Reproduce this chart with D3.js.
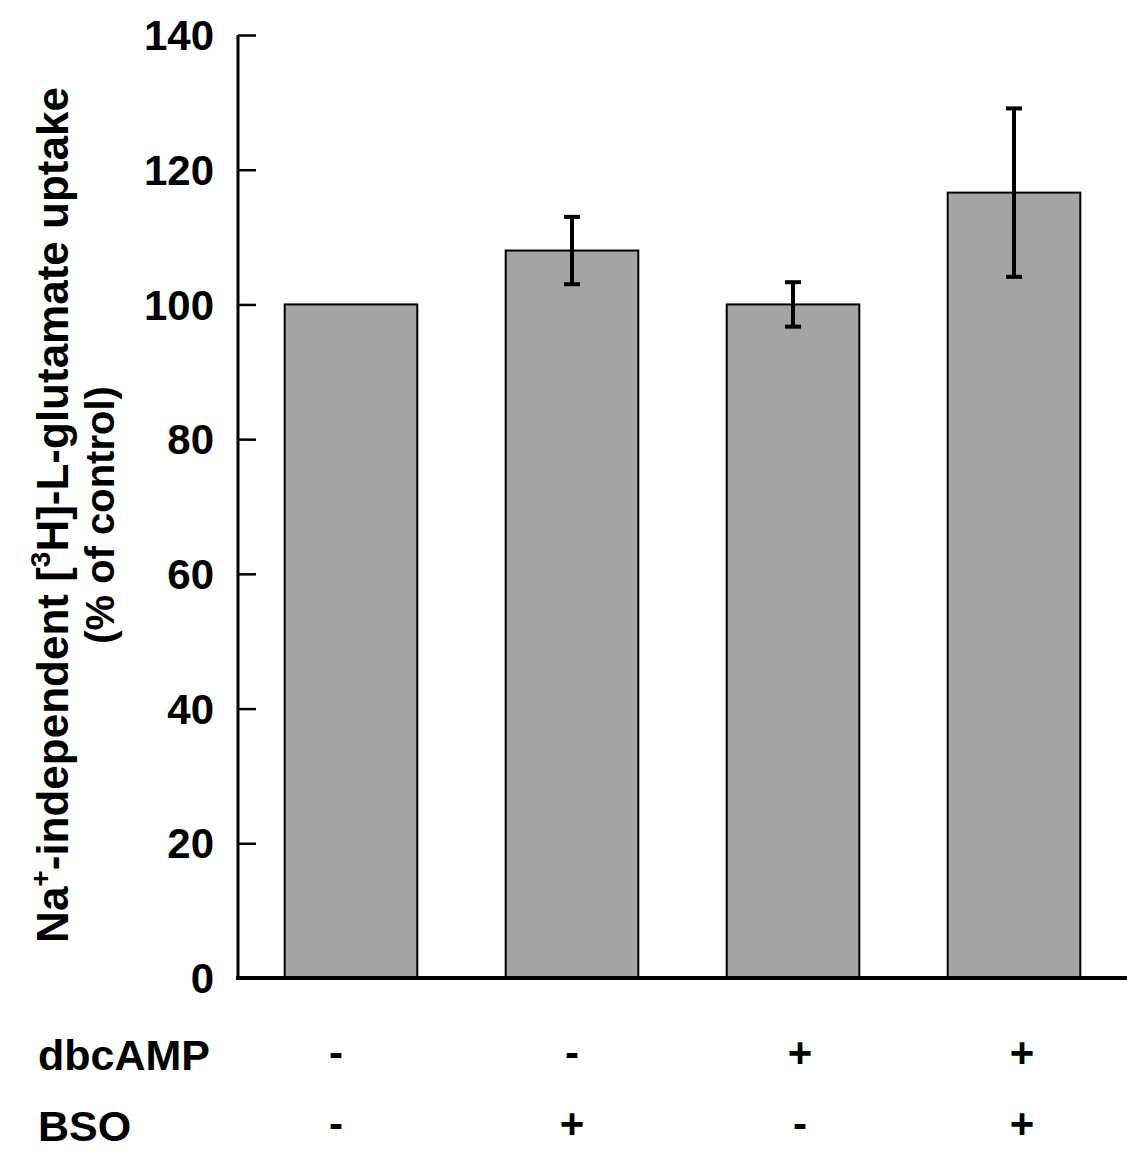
<!DOCTYPE html>
<html>
<head>
<meta charset="utf-8">
<script src="https://cdn.jsdelivr.net/npm/d3@7"></script>
<style>
  body { margin: 0; background: #fff; }
  text { font-family: "Liberation Sans", Arial, Helvetica, sans-serif; font-weight: bold; fill: #000; }
</style>
</head>
<body>
<div id="chart"></div>
<script>
// data
var groups = ["g1", "g2", "g3", "g4"];
var uptake = [100, 108, 100, 116.6];
var sem = [0, 5, 3.3, 12.5];
var dbcAMP = ["-", "-", "+", "+"];
var bso = ["-", "+", "-", "+"];
var yTicks = [0, 20, 40, 60, 80, 100, 120, 140];

var width = 1127, height = 1151;

var svg = d3.select("#chart").append("svg")
    .attr("width", width)
    .attr("height", height);

var y = d3.scaleLinear()
    .domain([0, 140])
    .range([978, 35]);

var x = d3.scaleBand()
    .domain(groups)
    .range([240.5, 1124.5])
    .paddingInner(0.4)
    .paddingOuter(0.2);

// bars
svg.append("g")
    .selectAll("rect")
    .data(uptake)
    .enter().append("rect")
    .attr("x", function(d, i) { return x(groups[i]); })
    .attr("y", function(d) { return y(d); })
    .attr("width", x.bandwidth())
    .attr("height", function(d) { return y(0) - y(d); })
    .attr("fill", "#a4a4a4")
    .attr("stroke", "#000")
    .attr("stroke-width", 2);

// error bars (skip the control, it has none)
var eb = svg.append("g")
    .selectAll("g")
    .data(uptake.map(function(d, i) { return {v: d, e: sem[i], g: groups[i]}; })
        .filter(function(d) { return d.e > 0; }))
    .enter().append("g")
    .attr("stroke", "#000")
    .attr("stroke-width", 4);

eb.append("line")
    .attr("x1", function(d) { return x(d.g) + x.bandwidth() / 2; })
    .attr("x2", function(d) { return x(d.g) + x.bandwidth() / 2; })
    .attr("y1", function(d) { return y(d.v + d.e); })
    .attr("y2", function(d) { return y(d.v - d.e); });

[1, -1].forEach(function(s) {
    eb.append("line")
        .attr("x1", function(d) { return x(d.g) + x.bandwidth() / 2 - 8; })
        .attr("x2", function(d) { return x(d.g) + x.bandwidth() / 2 + 8; })
        .attr("y1", function(d) { return y(d.v + s * d.e); })
        .attr("y2", function(d) { return y(d.v + s * d.e); });
});

// y axis, ticks point inward
var yAxis = svg.append("g")
    .attr("transform", "translate(238,0)")
    .call(d3.axisRight(y).tickValues(yTicks).tickSize(18).tickFormat(""));
yAxis.select(".domain").attr("stroke", "#000").attr("stroke-width", 3)
    .attr("d", "M0," + y(140) + "V" + y(0));
yAxis.selectAll(".tick line").attr("stroke", "#000").attr("stroke-width", 2.5);

svg.append("g")
    .selectAll("text")
    .data(yTicks)
    .enter().append("text")
    .attr("x", 214)
    .attr("y", function(d) { return y(d); })
    .attr("dy", "0.36em")
    .attr("text-anchor", "end")
    .style("font-size", "42px")
    .text(function(d) { return d; });

// baseline
svg.append("line")
    .attr("x1", 236).attr("x2", 1127)
    .attr("y1", y(0)).attr("y2", y(0))
    .attr("stroke", "#000")
    .attr("stroke-width", 4);

// y label
var yl = svg.append("text")
    .attr("transform", "translate(68," + 515 + ") rotate(-90)")
    .attr("text-anchor", "middle")
    .style("font-size", "44px");
yl.append("tspan").text("Na");
yl.append("tspan").attr("dy", -18).style("font-size", "28px").text("+");
yl.append("tspan").attr("dy", 18).text("-independent [");
yl.append("tspan").attr("dy", -18).style("font-size", "28px").text("3");
yl.append("tspan").attr("dy", 18).text("H]-L-glutamate uptake");

svg.append("text")
    .attr("transform", "translate(114," + 515 + ") rotate(-90)")
    .attr("text-anchor", "middle")
    .style("font-size", "40px")
    .text("(% of control)");

// treatment rows
var nudge = [-15, 0, 7, 8];
var rows = [{name: "dbcAMP", vals: dbcAMP, y: 1070}, {name: "BSO", vals: bso, y: 1141}];
rows.forEach(function(r) {
    svg.append("text")
        .attr("x", 38)
        .attr("y", r.y)
        .style("font-size", "43px")
        .text(r.name);
    svg.append("g")
        .selectAll("text")
        .data(r.vals)
        .enter().append("text")
        .attr("x", function(d, i) { return x(groups[i]) + x.bandwidth() / 2 + nudge[i]; })
        .attr("y", r.y - 3)
        .attr("text-anchor", "middle")
        .style("font-size", "42px")
        .text(function(d) { return d; });
});
</script>
</body>
</html>
